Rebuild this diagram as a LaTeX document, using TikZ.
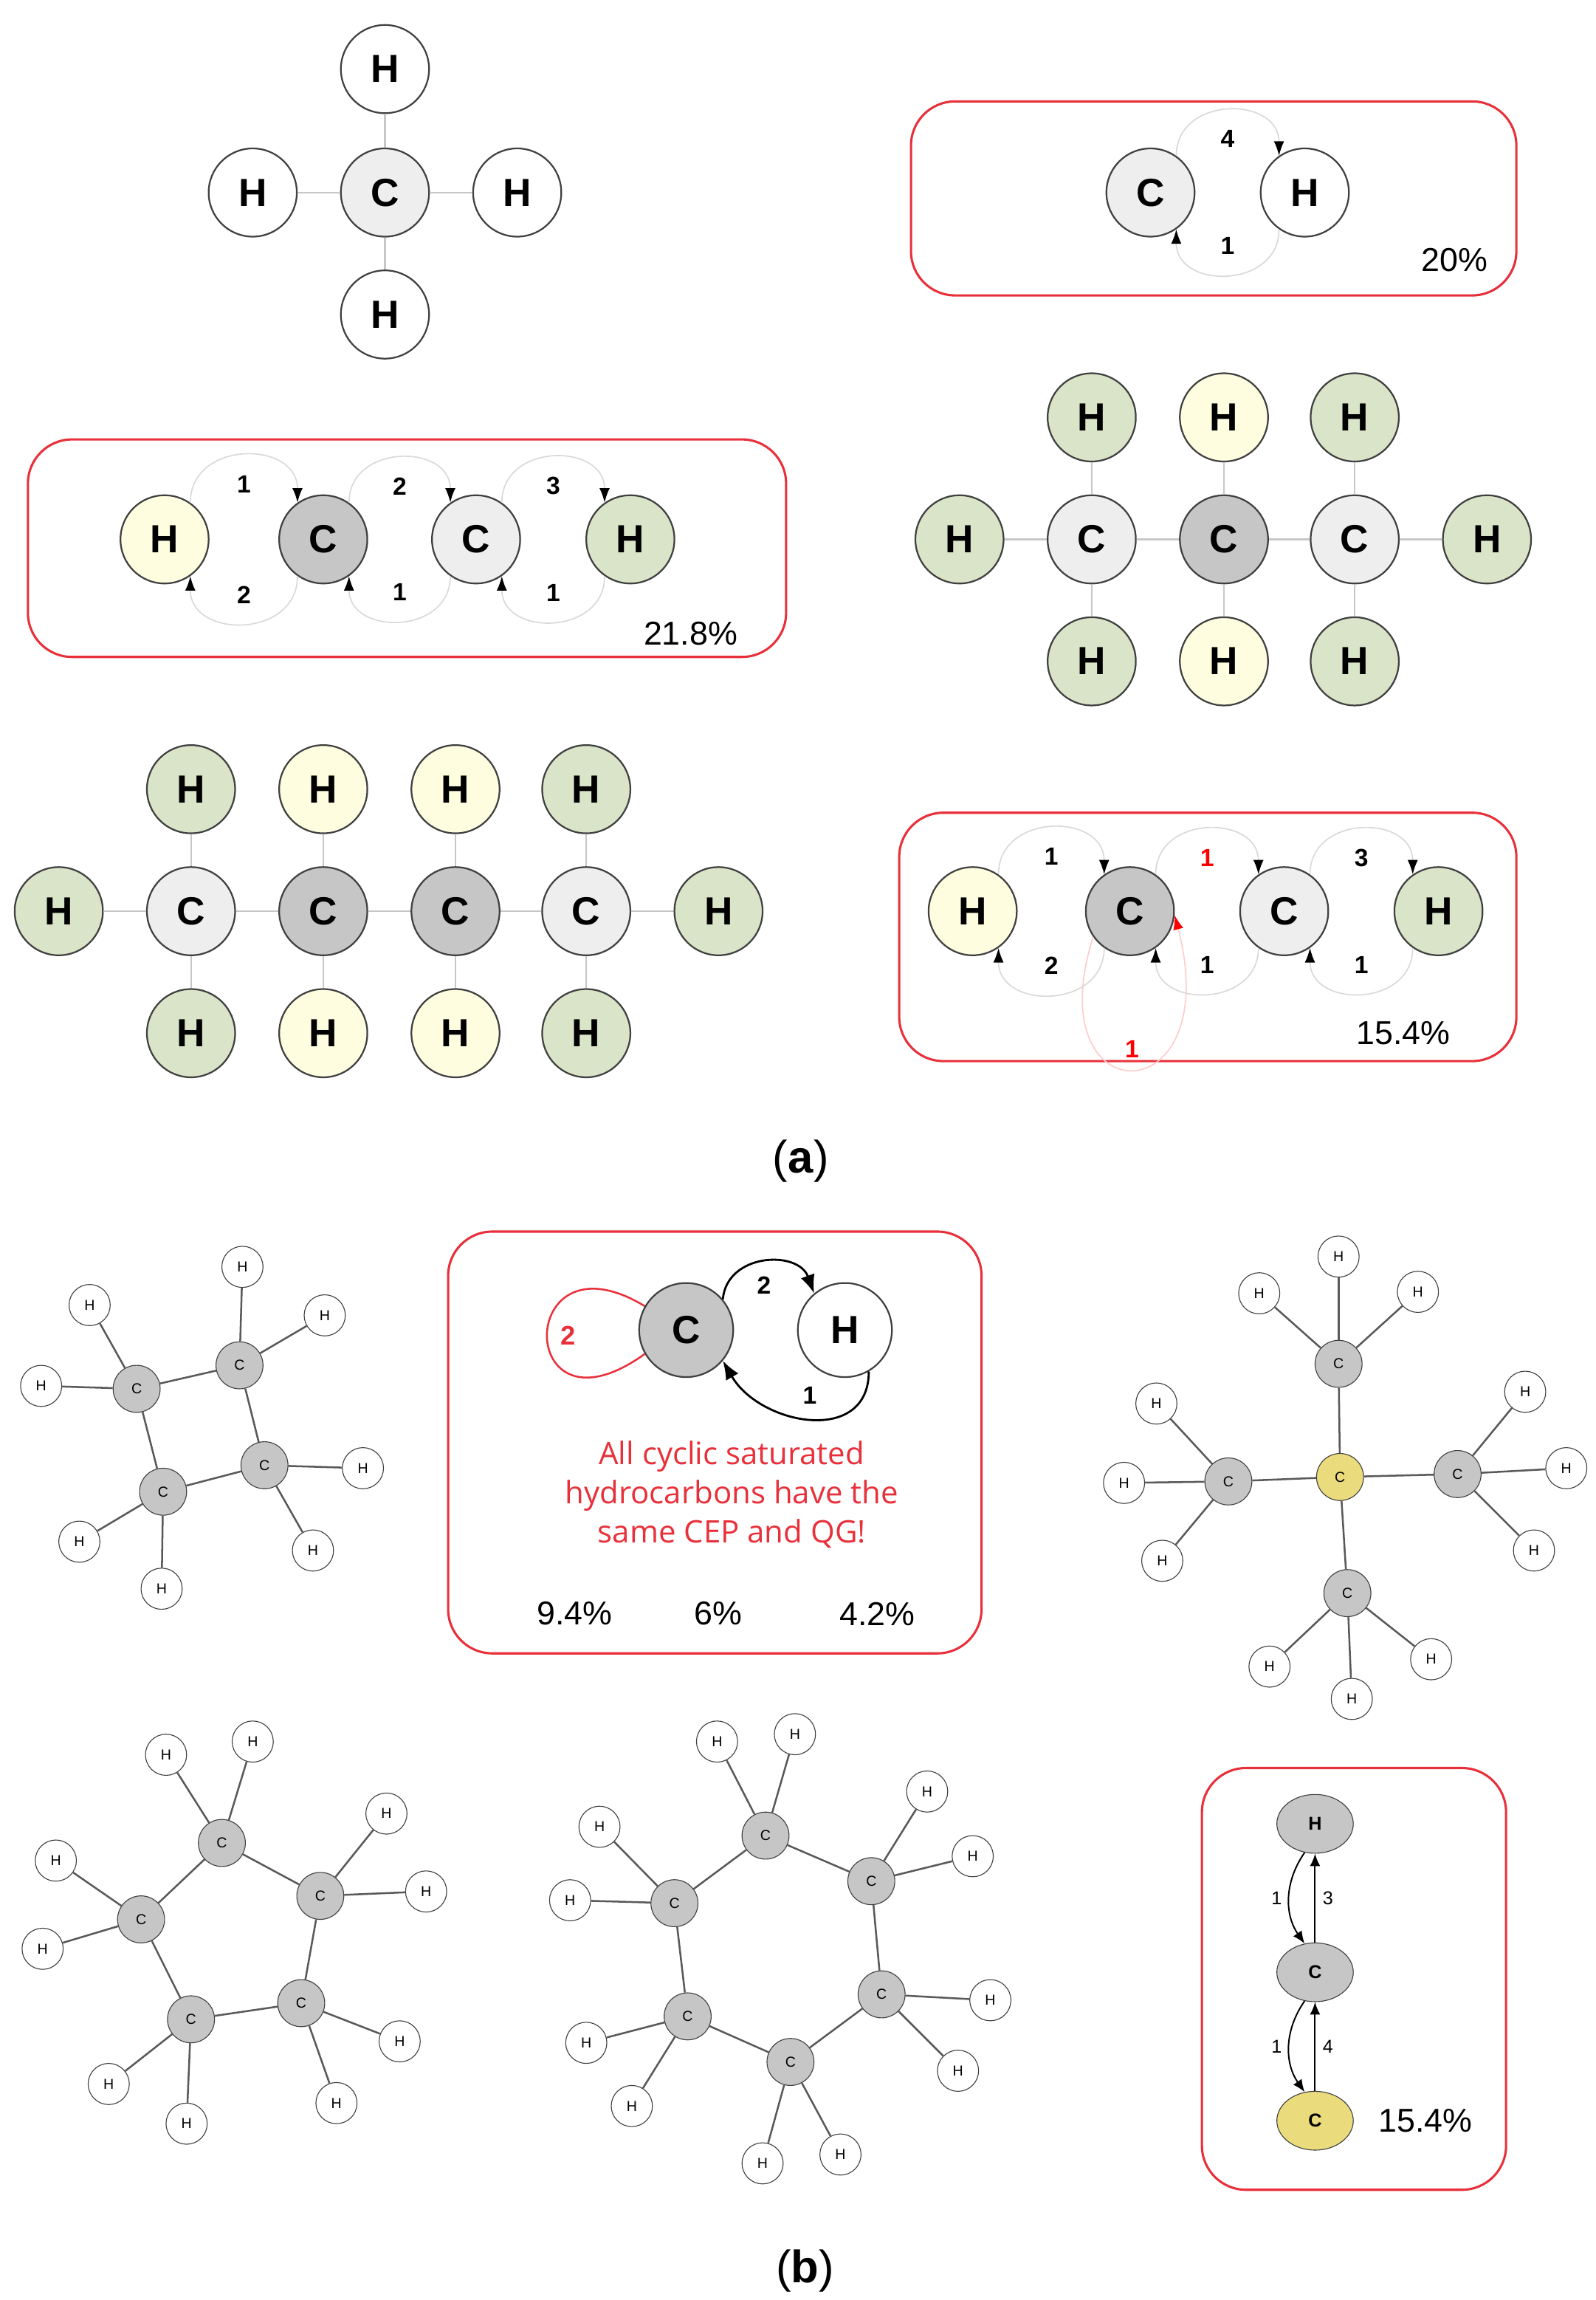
\documentclass[tikz,border=0pt]{standalone}
\usepackage{fontspec}
\setmainfont{Liberation Sans}
\newfontfamily\capfont{Open Sans}
\usetikzlibrary{arrows.meta,shapes.geometric}
\definecolor{clight}{HTML}{EEEEEE}
\definecolor{cdark}{HTML}{C6C6C6}
\definecolor{hyel}{HTML}{FFFDE0}
\definecolor{hgrn}{HTML}{D9E4C9}
\definecolor{cyel}{HTML}{EADC7C}
\definecolor{boxred}{HTML}{E8303A}
\tikzset{
  atom/.style={circle, draw=black!75, line width=0.8pt, minimum size=1.5cm, inner sep=0pt, font=\bfseries\fontsize{19}{19}\selectfont},
  bond/.style={draw=black!22, line width=0.8pt},
  sm/.style={circle, draw=black!75, fill=white, minimum size=0.7cm, inner sep=0pt, font=\rmfamily\fontsize{7}{7}\selectfont},
  smc/.style={sm, fill=cdark, minimum size=0.8cm},
  sbond/.style={draw=black!65, line width=0.9pt},
  frame/.style={draw=boxred, line width=1.1pt, rounded corners=0.75cm},
  arc/.style={draw=black!15, line width=0.6pt, -{Latex[length=7pt,width=5pt,black]}},
  up/.style={out=90, in=90, looseness=1.5},
  dn/.style={out=-90, in=-90, looseness=1.5},
  lab/.style={font=\bfseries\fontsize{12}{12}\selectfont},
  pct/.style={font=\fontsize{16}{16}\selectfont},
  tag/.style={font=\rmfamily\fontsize{22}{22}\selectfont}
}
\begin{document}
\begin{tikzpicture}[x=0.025cm, y=-0.025cm]
\useasboundingbox (0,0) rectangle (1086,1565);

% methane
\node[atom, fill=clight] (mc) at (262,131) {C};
\node[atom] (mh1) at (262,47) {H};
\node[atom] (mh2) at (172,131) {H};
\node[atom] (mh3) at (352,131) {H};
\node[atom] (mh4) at (262,214) {H};
\foreach \h in {mh1,mh2,mh3,mh4} \draw[bond] (mc) -- (\h);

% box 1
\draw[frame] (620,69) rectangle (1032,201);
\node[atom, fill=clight] (bc) at (783,131) {C};
\node[atom] (bh) at (888,131) {H};
\draw[arc] (bc.55) to[up] node[lab, below=6pt] {4} (bh.125);
\draw[arc] (bh.-125) to[dn] node[lab, above=6pt] {1} (bc.-55);
\node[pct] (p1) at (990,177) {20\%};

% box 2
\draw[frame] (19,299) rectangle (535,447);
\node[atom, fill=hyel] (ea) at (112,367) {H};
\node[atom, fill=cdark] (eb) at (220,367) {C};
\node[atom, fill=clight] (ec) at (324,367) {C};
\node[atom, fill=hgrn] (ed) at (429,367) {H};
\draw[arc] (ea.55) to[up] node[lab, below=6pt] {1} (eb.125);
\draw[arc] (eb.55) to[up] node[lab, below=6pt] {2} (ec.125);
\draw[arc] (ec.55) to[up] node[lab, below=6pt] {3} (ed.125);
\draw[arc] (eb.-125) to[dn] node[lab, above=6pt] {2} (ea.-55);
\draw[arc] (ec.-125) to[dn] node[lab, above=6pt] {1} (eb.-55);
\draw[arc] (ed.-125) to[dn] node[lab, above=6pt] {1} (ec.-55);
\node[pct] (p2) at (470,431) {21.8\%};

% propane
\node[atom, fill=clight] (pc1) at (743,367) {C};
\node[atom, fill=cdark] (pc2) at (833,367) {C};
\node[atom, fill=clight] (pc3) at (922,367) {C};
\node[atom, fill=hgrn] (pl) at (653,367) {H};
\node[atom, fill=hgrn] (pr) at (1012,367) {H};
\node[atom, fill=hgrn] (pt1) at (743,284) {H};
\node[atom, fill=hyel] (pt2) at (833,284) {H};
\node[atom, fill=hgrn] (pt3) at (922,284) {H};
\node[atom, fill=hgrn] (pb1) at (743,450) {H};
\node[atom, fill=hyel] (pb2) at (833,450) {H};
\node[atom, fill=hgrn] (pb3) at (922,450) {H};
\draw[bond] (pl) -- (pc1) -- (pc2) -- (pc3) -- (pr);
\foreach \i in {1,2,3} \draw[bond] (pt\i) -- (pc\i) -- (pb\i);

% butane
\node[atom, fill=clight] (uc1) at (130,620) {C};
\node[atom, fill=cdark] (uc2) at (220,620) {C};
\node[atom, fill=cdark] (uc3) at (310,620) {C};
\node[atom, fill=clight] (uc4) at (399,620) {C};
\node[atom, fill=hgrn] (ul) at (40,620) {H};
\node[atom, fill=hgrn] (ur) at (489,620) {H};
\node[atom, fill=hgrn] (ut1) at (130,537) {H};
\node[atom, fill=hyel] (ut2) at (220,537) {H};
\node[atom, fill=hyel] (ut3) at (310,537) {H};
\node[atom, fill=hgrn] (ut4) at (399,537) {H};
\node[atom, fill=hgrn] (ub1) at (130,703) {H};
\node[atom, fill=hyel] (ub2) at (220,703) {H};
\node[atom, fill=hyel] (ub3) at (310,703) {H};
\node[atom, fill=hgrn] (ub4) at (399,703) {H};
\draw[bond] (ul) -- (uc1) -- (uc2) -- (uc3) -- (uc4) -- (ur);
\foreach \i in {1,2,3,4} \draw[bond] (ut\i) -- (uc\i) -- (ub\i);

% box 3
\draw[frame] (612,553) rectangle (1032,722);
\node[atom, fill=hyel] (ta) at (662,620) {H};
\node[atom, fill=cdark] (tb) at (769,620) {C};
\node[atom, fill=clight] (tc) at (874,620) {C};
\node[atom, fill=hgrn] (td) at (979,620) {H};
\draw[arc, draw=red!20, -{Latex[length=7pt,width=5pt,red]}] (tb.215) .. controls (705,760) and (835,760) .. node[lab, red, above=2pt] {1} (tb.-5);
\draw[arc] (ta.55) to[up] node[lab, below=6pt] {1} (tb.125);
\draw[arc] (tb.55) to[up] node[lab, red, below=6pt] {1} (tc.125);
\draw[arc] (tc.55) to[up] node[lab, below=6pt] {3} (td.125);
\draw[arc] (tb.-125) to[dn] node[lab, above=6pt] {2} (ta.-55);
\draw[arc] (tc.-125) to[dn] node[lab, above=6pt] {1} (tb.-55);
\draw[arc] (td.-125) to[dn] node[lab, above=6pt] {1} (tc.-55);
\node[pct] (p3) at (955,703) {15.4\%};

\node[tag] (ta1) at (545,790) {(\textbf{a})};

% box 4
\draw[frame] (305,838) rectangle (668,1125);
\node[atom, fill=cdark, minimum size=1.6cm] (qc) at (467,905) {C};
\node[atom, minimum size=1.6cm] (qh) at (575,905) {H};
\draw[boxred, line width=0.9pt] (qc.150) .. controls (350,835) and (350,985) .. node[lab, pos=0.5, right=3pt, font=\bfseries\fontsize{13}{13}\selectfont] {2} (qc.210);
\draw[line width=1pt, -{Latex[length=9pt,width=7pt]}] (qc.40) to[out=85,in=110,looseness=1.3] node[lab, below=3pt] {2} (qh.130);
\draw[line width=1pt, -{Latex[length=9pt,width=7pt]}] (qh.-60) to[out=-90,in=-60,looseness=1.3] node[lab, above=3pt] {1} (qc.-40);
\node[font=\capfont\fontsize{15}{19}\selectfont, text=boxred, align=center] (qt) at (498,1017) {All cyclic saturated\\hydrocarbons have the\\same CEP and QG!};
\node[pct] (q1) at (391,1098) {9.4\%};
\node[pct] (q2) at (489,1098) {6\%};
\node[pct] (q3) at (597,1098) {4.2\%};

% cyclobutane
\foreach \n/\x/\y in {1/93/945, 2/163/929, 3/180/997, 4/111/1015}
  \node[smc] (k\n) at (\x,\y) {C};
\foreach \n/\x/\y/\c in {1/61/888/1, 2/28/943/1, 3/165/862/2, 4/221/895/2, 5/247/999/3, 6/213/1055/3, 7/54/1049/4, 8/110/1081/4}
  {\node[sm] (kh\n) at (\x,\y) {H}; \draw[sbond] (k\c) -- (kh\n);}
\draw[sbond] (k1) -- (k2) -- (k3) -- (k4) -- (k1);

% cyclopentane
\foreach \n/\x/\y in {1/151/1254, 2/218/1290, 3/205/1363, 4/130/1374, 5/96/1306}
  \node[smc] (f\n) at (\x,\y) {C};
\foreach \n/\x/\y/\c in {1/113/1194/1, 2/172/1185/1, 3/263/1234/2, 4/290/1287/2, 5/272/1389/3, 6/229/1431/3, 7/74/1418/4, 8/127/1445/4, 9/38/1266/5, 10/29/1326/5}
  {\node[sm] (fh\n) at (\x,\y) {H}; \draw[sbond] (f\c) -- (fh\n);}
\draw[sbond] (f1) -- (f2) -- (f3) -- (f4) -- (f5) -- (f1);

% cyclohexane
\foreach \n/\x/\y in {1/521/1249, 2/593/1280, 3/600/1357, 4/538/1403, 5/468/1372, 6/459/1295}
  \node[smc] (s\n) at (\x,\y) {C};
\foreach \n/\x/\y/\c in {1/488/1185/1, 2/541/1180/1, 3/631/1219/2, 4/662/1263/2, 5/674/1361/3, 6/652/1409/3, 7/572/1466/4, 8/519/1472/4, 9/399/1390/5, 10/430/1433/5, 11/408/1243/6, 12/388/1293/6}
  {\node[sm] (sh\n) at (\x,\y) {H}; \draw[sbond] (s\c) -- (sh\n);}
\draw[sbond] (s1) -- (s2) -- (s3) -- (s4) -- (s5) -- (s6) -- (s1);

% neopentane
\node[smc, fill=cyel] (n0) at (912,1005) {C};
\foreach \n/\x/\y in {1/911/928, 2/836/1008, 3/992/1003, 4/917/1084}
  {\node[smc] (n\n) at (\x,\y) {C}; \draw[sbond] (n0) -- (n\n);}
\foreach \n/\x/\y/\c in {1/857/880/1, 2/911/855/1, 3/965/879/1, 4/787/955/2, 5/765/1009/2, 6/791/1062/2, 7/1038/947/3, 8/1066/999/3, 9/1044/1055/3, 10/864/1134/4, 11/920/1156/4, 12/974/1129/4}
  {\node[sm] (nh\n) at (\x,\y) {H}; \draw[sbond] (n\c) -- (nh\n);}

% box 5
\draw[frame] (818,1203) rectangle (1025,1490);
\tikzset{oval/.style={ellipse, draw=black!75, minimum width=1.3cm, minimum height=1.0cm, inner sep=0pt, font=\rmfamily\bfseries\fontsize{9}{9}\selectfont}}
\node[oval, fill=cdark] (gh) at (895,1241) {H};
\node[oval, fill=cdark] (gc) at (895,1342) {C};
\node[oval, fill=cyel] (gy) at (895,1443) {C};
\draw[line width=0.7pt, -{Latex[length=6pt,width=5pt]}] (gc) -- node[right, font=\rmfamily\fontsize{9}{9}\selectfont] {3} (gh);
\draw[line width=0.7pt, -{Latex[length=6pt,width=5pt]}] (gh.250) to[bend right=35] node[left, font=\rmfamily\fontsize{9}{9}\selectfont] {1} (gc.110);
\draw[line width=0.7pt, -{Latex[length=6pt,width=5pt]}] (gy) -- node[right, font=\rmfamily\fontsize{9}{9}\selectfont] {4} (gc);
\draw[line width=0.7pt, -{Latex[length=6pt,width=5pt]}] (gc.250) to[bend right=35] node[left, font=\rmfamily\fontsize{9}{9}\selectfont] {1} (gy.110);
\node[pct] (p5) at (970,1443) {15.4\%};

\node[tag] (tb1) at (548,1545) {(\textbf{b})};
\end{tikzpicture}
\end{document}
